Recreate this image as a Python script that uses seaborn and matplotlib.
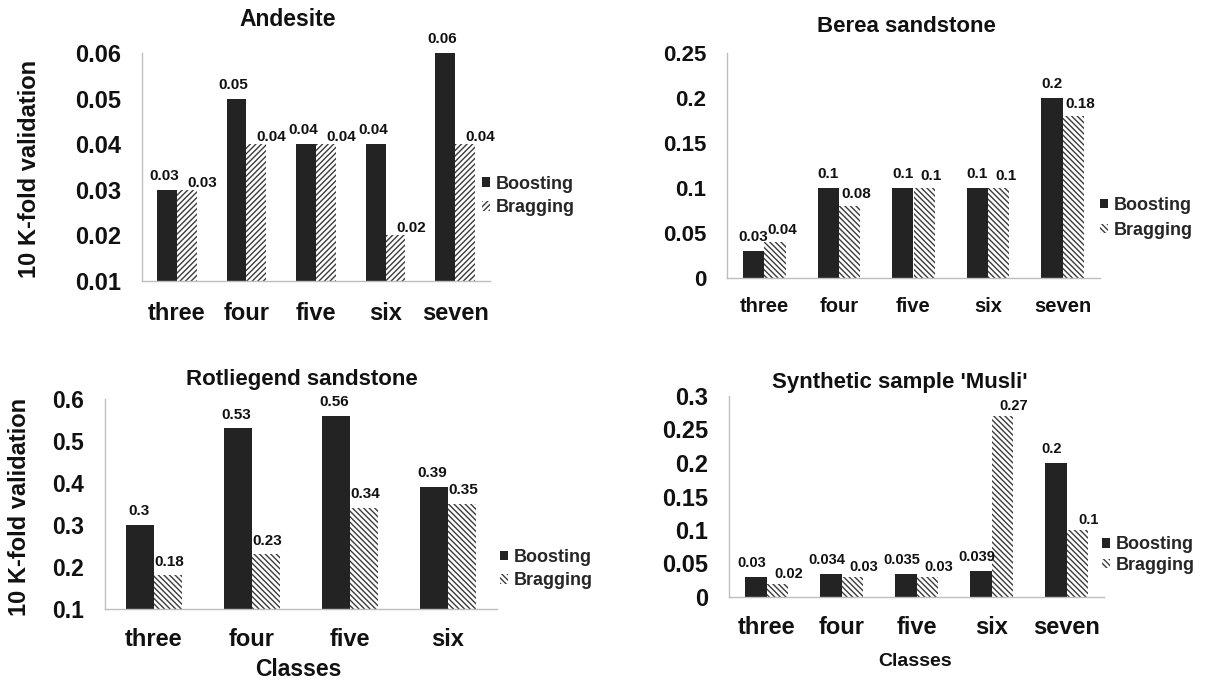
import matplotlib
matplotlib.use("Agg")
import matplotlib.pyplot as plt
import matplotlib.patches as mpatches
from matplotlib import font_manager
import seaborn as sns
import pandas as pd

# ---------------- data ----------------
series = ["Boosting", "Bragging"]

andesite_classes = ["three", "four", "five", "six", "seven"]
andesite_boosting = [0.03, 0.05, 0.04, 0.04, 0.06]
andesite_bragging = [0.03, 0.04, 0.04, 0.02, 0.04]
andesite_yticks = [0.01, 0.02, 0.03, 0.04, 0.05, 0.06]

berea_classes = ["three", "four", "five", "six", "seven"]
berea_boosting = [0.03, 0.1, 0.1, 0.1, 0.2]
berea_bragging = [0.04, 0.08, 0.1, 0.1, 0.18]
berea_yticks = [0, 0.05, 0.1, 0.15, 0.2, 0.25]

rot_classes = ["three", "four", "five", "six"]
rot_boosting = [0.3, 0.53, 0.56, 0.39]
rot_bragging = [0.18, 0.23, 0.34, 0.35]
rot_yticks = [0.1, 0.2, 0.3, 0.4, 0.5, 0.6]

musli_classes = ["three", "four", "five", "six", "seven"]
musli_boosting = [0.03, 0.034, 0.035, 0.039, 0.2]
musli_bragging = [0.02, 0.03, 0.03, 0.27, 0.1]
musli_yticks = [0, 0.05, 0.1, 0.15, 0.2, 0.25, 0.3]

ylabel_text = "10 K-fold validation"
xlabel_text = "Classes"

# ---------------- style ----------------
sns.set_theme(style="white")
plt.rcParams["font.family"] = ["Liberation Sans", "DejaVu Sans"]
plt.rcParams["font.weight"] = "bold"
plt.rcParams["hatch.linewidth"] = 1.0

avail = {f.name for f in font_manager.fontManager.ttflist}
narrow = ["Liberation Sans Narrow", "Liberation Sans"] if "Liberation Sans Narrow" in avail else ["Liberation Sans"]

BOOST = "#232323"
HATCHC = "#3c3c3c"
AXC = "#bdbdbd"
TXT = "#111111"

W, H = 1206, 682
fig = plt.figure(figsize=(W / 100, H / 100), dpi=100)


def px_rect(left, top, right, bottom):
    return [left / W, 1 - bottom / H, (right - left) / W, (bottom - top) / H]


def fmt(v):
    return "0" if v == 0 else f"{v:g}"


def panel(box, title, title_xy, classes, boost, brag, yticks, hatch,
          tick_fs, xtick_fs, xpad, title_fs, lab_fs, brag_dx, brag_dy, boost_dx,
          leg_xy, leg_fs, leg_sp,
          ylabel_pos=None, ylabel_fs=17, xlabel_xy=None, xlabel_fs=15):
    ax = fig.add_axes(px_rect(*box))
    df = pd.DataFrame({
        "cls": classes * 2,
        "val": boost + brag,
        "series": [series[0]] * len(classes) + [series[1]] * len(classes),
    })
    sns.barplot(data=df, x="cls", y="val", hue="series", order=classes,
                hue_order=series, palette=[BOOST, "white"], width=0.57,
                saturation=1, ax=ax, legend=False)
    for p in ax.containers[0]:
        p.set_edgecolor(BOOST)
        p.set_linewidth(0)
    for p in ax.containers[1]:
        p.set_hatch(hatch)
        p.set_edgecolor(HATCHC)
        p.set_linewidth(0)
    # value labels
    for ci, (cont, vals) in enumerate(zip(ax.containers, [boost, brag])):
        dx = boost_dx if ci == 0 else brag_dx
        dy = 10 if ci == 0 else brag_dy
        for p, v in zip(cont, vals):
            ax.annotate(fmt(v), (p.get_x() + p.get_width() / 2, p.get_height()),
                        xytext=(dx, dy), textcoords="offset points",
                        ha="center", va="center", fontsize=lab_fs,
                        fontweight="bold", family=narrow, color=TXT)
    ax.set_ylim(yticks[0], yticks[-1])
    ax.set_yticks(yticks)
    ax.set_yticklabels([fmt(v) for v in yticks], fontsize=tick_fs, fontweight="bold")
    ax.set_xticks(range(len(classes)))
    ax.set_xticklabels(classes, fontsize=xtick_fs, fontweight="bold")
    ax.set_xlim(-0.5, len(classes) - 0.5)
    for s in ["top", "right"]:
        ax.spines[s].set_visible(False)
    for s in ["left", "bottom"]:
        ax.spines[s].set_color(AXC)
        ax.spines[s].set_linewidth(1.0)
    ax.tick_params(axis="y", length=5, width=1, pad=10, color=AXC, labelcolor=TXT)
    ax.tick_params(axis="x", length=0, pad=xpad, labelcolor=TXT)
    ax.set_xlabel("")
    ax.set_ylabel("")
    if ylabel_pos:
        ax.set_ylabel(ylabel_text, fontsize=ylabel_fs, fontweight="bold", color=TXT)
        ax.yaxis.set_label_coords(*ylabel_pos, transform=fig.transFigure)
    if xlabel_xy:
        fig.text(xlabel_xy[0] / W, 1 - xlabel_xy[1] / H, xlabel_text, ha="center",
                 va="center", fontsize=xlabel_fs, fontweight="bold", color=TXT)
    fig.text(title_xy[0] / W, 1 - title_xy[1] / H, title, ha="center", va="center",
             fontsize=title_fs, fontweight="bold", color=TXT)
    handles = [mpatches.Patch(facecolor=BOOST, edgecolor=BOOST, linewidth=0, label=series[0]),
               mpatches.Patch(facecolor="white", edgecolor=HATCHC, linewidth=0,
                              hatch=hatch, label=series[1])]
    ax.legend(handles=handles, loc="center left",
              bbox_to_anchor=(leg_xy[0] / W, 1 - leg_xy[1] / H),
              bbox_transform=fig.transFigure, frameon=False,
              handlelength=0.45, handleheight=0.45, handletextpad=0.3,
              labelspacing=leg_sp, borderaxespad=0, borderpad=0,
              prop={"weight": "bold", "size": leg_fs})
    ax.grid(False)
    return ax


panel((142, 53, 490, 281), "Andesite", (288, 20), andesite_classes,
      andesite_boosting, andesite_bragging, andesite_yticks, "//////",
      tick_fs=17, xtick_fs=17, xpad=15, title_fs=16.5, lab_fs=11,
      brag_dx=11, brag_dy=5, boost_dx=-2,
      leg_xy=(482, 196), leg_fs=13, leg_sp=0.38,
      ylabel_pos=(41 / W, 1 - 169 / H), ylabel_fs=17)

panel((727, 53, 1100, 278), "Berea sandstone", (906, 26), berea_classes,
      berea_boosting, berea_bragging, berea_yticks, "\\\\\\\\\\\\",
      tick_fs=16, xtick_fs=14.5, xpad=14, title_fs=16, lab_fs=11,
      brag_dx=5, brag_dy=9, boost_dx=0,
      leg_xy=(1100, 218), leg_fs=13, leg_sp=0.45)

panel((105, 399, 497, 609), "Rotliegend sandstone", (302, 380), rot_classes,
      rot_boosting, rot_bragging, rot_yticks, "\\\\\\\\\\\\",
      tick_fs=16.5, xtick_fs=17, xpad=14, title_fs=16, lab_fs=11,
      brag_dx=1, brag_dy=10, boost_dx=-1,
      leg_xy=(500, 569), leg_fs=13, leg_sp=0.35,
      ylabel_pos=(31 / W, 1 - 507 / H), ylabel_fs=17,
      xlabel_xy=(298, 670), xlabel_fs=16.5)

panel((729, 396, 1104, 597), "Synthetic sample 'Musli'", (900, 383), musli_classes,
      musli_boosting, musli_bragging, musli_yticks, "\\\\\\\\\\\\",
      tick_fs=17, xtick_fs=17, xpad=14, title_fs=16, lab_fs=10.5,
      brag_dx=8, brag_dy=7, boost_dx=-3,
      leg_xy=(1102, 555), leg_fs=13, leg_sp=0.2,
      xlabel_xy=(915, 662), xlabel_fs=14)

fig.savefig("out.png", dpi=100, facecolor="white")
